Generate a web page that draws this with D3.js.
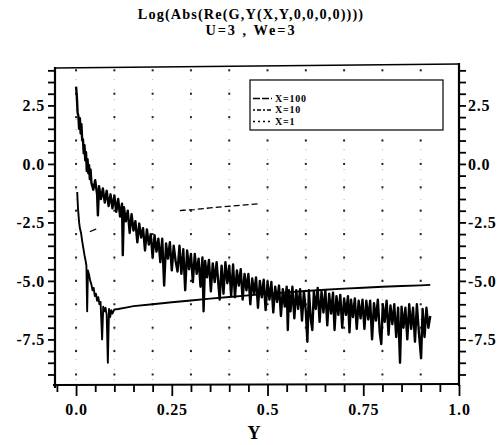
<!DOCTYPE html>
<html>
<head>
<meta charset="utf-8">
<script src="https://cdn.jsdelivr.net/npm/d3@7/dist/d3.min.js"></script>
<style>
  html, body { margin: 0; padding: 0; background: #fff; }
  svg { display: block; }
  text { font-family: "Liberation Serif", "Times New Roman", serif; font-weight: bold; fill: #000; }
</style>
</head>
<body>
<script>
// ---------------- data ----------------
const titleLines = ["Log(Abs(Re(G,Y(X,Y,0,0,0,0))))", "U=3 , We=3"];
const xLabel = "Y";
const xMajorTicks = [0, 0.25, 0.5, 0.75, 1.0];
const xTickLabels = ["0.0", "0.25", "0.5", "0.75", "1.0"];
const yMajorTicks = [2.5, 0, -2.5, -5, -7.5];
const yTickLabels = ["2.5", "0.0", "-2.5", "-5.0", "-7.5"];
const legendNames = ["X=100", "X=10", "X=1"];
const gridColumns = [0, 0.1, 0.2, 0.3, 0.4, 0.5, 0.6, 0.7, 0.8, 0.9];
const gridRows = [4, 3, 2, 1, 0, -1, -2, -3, -4, -5, -6, -7, -8, -9];

// noisy upper curve  [Y, log value]
const upperCurve = [
 [0.000,3.30],[0.002,2.90],[0.004,2.20],[0.006,2.05],[0.008,1.50],[0.010,1.95],[0.012,1.30],[0.014,1.70],
 [0.016,1.00],[0.018,1.05],[0.020,0.45],[0.022,0.80],[0.024,0.15],[0.026,0.50],[0.028,-0.30],[0.030,0.20],
 [0.032,-0.40],[0.034,-0.05],[0.036,-0.65],[0.038,-0.25],[0.040,-0.80],[0.045,-1.10],[0.050,-0.70],[0.055,-1.30],
 [0.057,-2.20],[0.060,-0.95],[0.065,-1.50],[0.070,-1.05],[0.075,-1.65],[0.080,-1.15],[0.085,-1.80],[0.090,-1.30],
 [0.095,-1.90],[0.100,-1.35],[0.105,-2.05],[0.110,-1.50],[0.115,-2.25],[0.120,-1.70],[0.122,-3.90],[0.125,-1.85],
 [0.130,-2.45],[0.135,-2.00],[0.140,-2.95],[0.145,-2.15],[0.150,-2.85],[0.155,-2.45],[0.160,-3.35],[0.165,-2.55],
 [0.170,-3.15],[0.175,-2.75],[0.180,-3.70],[0.185,-2.80],[0.190,-3.45],[0.195,-3.00],[0.200,-4.00],[0.205,-3.05],
 [0.210,-3.75],[0.215,-3.20],[0.220,-4.20],[0.225,-3.20],[0.230,-5.20],[0.235,-3.40],[0.240,-4.05],[0.245,-3.35],
 [0.250,-4.55],[0.255,-3.50],[0.260,-4.15],[0.265,-4.60],[0.270,-3.50],[0.275,-4.70],[0.280,-3.65],[0.285,-5.40],
 [0.290,-3.70],[0.295,-4.50],[0.300,-3.85],[0.305,-5.05],[0.310,-3.85],[0.315,-4.70],[0.320,-4.05],[0.325,-5.25],
 [0.330,-4.00],[0.333,-6.30],[0.337,-4.15],[0.342,-4.85],[0.347,-4.10],[0.352,-5.45],[0.357,-4.25],[0.362,-5.05],
 [0.367,-4.20],[0.375,-5.80],[0.380,-4.35],[0.385,-5.55],[0.390,-4.20],[0.395,-5.10],[0.400,-4.35],[0.405,-5.65],
 [0.410,-4.30],[0.415,-5.70],[0.420,-4.55],[0.425,-5.20],[0.430,-4.50],[0.435,-5.80],[0.440,-4.70],[0.445,-5.40],
 [0.450,-4.70],[0.455,-6.00],[0.460,-4.90],[0.465,-5.55],[0.470,-4.85],[0.475,-6.15],[0.480,-5.00],[0.485,-5.70],
 [0.490,-4.95],[0.495,-6.25],[0.500,-5.05],[0.505,-5.80],[0.510,-5.05],[0.515,-6.35],[0.520,-5.25],[0.525,-5.90],
 [0.530,-5.20],[0.535,-6.50],[0.540,-5.35],[0.545,-6.10],[0.550,-5.25],[0.553,-7.10],[0.556,-5.40],[0.560,-6.30],
 [0.565,-5.25],[0.570,-6.60],[0.575,-5.40],[0.580,-6.20],[0.585,-5.35],[0.590,-6.70],[0.595,-5.45],[0.600,-6.30],
 [0.604,-7.60],[0.608,-5.40],[0.613,-6.65],[0.617,-7.10],[0.621,-5.45],[0.626,-6.20],[0.631,-5.30],[0.636,-6.75],
 [0.641,-5.45],[0.646,-6.35],[0.651,-5.40],[0.656,-6.90],[0.661,-5.55],[0.666,-6.40],[0.671,-5.50],[0.675,-7.10],
 [0.680,-5.65],[0.685,-6.45],[0.690,-5.60],[0.695,-7.00],[0.700,-5.75],[0.705,-6.45],[0.710,-5.65],[0.714,-7.20],
 [0.718,-5.80],[0.723,-6.55],[0.728,-5.75],[0.733,-7.05],[0.738,-5.85],[0.743,-6.60],[0.748,-5.80],[0.753,-7.05],
 [0.758,-5.85],[0.763,-6.65],[0.768,-5.85],[0.773,-7.50],[0.778,-5.95],[0.783,-6.70],[0.788,-5.80],[0.793,-7.20],
 [0.797,-7.70],[0.801,-6.00],[0.806,-6.75],[0.811,-5.85],[0.816,-7.30],[0.821,-6.05],[0.826,-6.85],[0.831,-6.00],
 [0.836,-7.40],[0.841,-6.15],[0.846,-8.50],[0.850,-6.10],[0.855,-7.00],[0.860,-6.15],[0.865,-7.50],[0.870,-6.00],
 [0.875,-7.05],[0.880,-6.15],[0.885,-7.60],[0.890,-6.00],[0.895,-7.15],[0.901,-8.30],[0.905,-6.20],[0.910,-7.40],
 [0.915,-6.15],[0.920,-7.00],[0.925,-6.50]
];

// lower curve [Y, log value]
const lowerCurve = [
 [0.003,-1.20],[0.005,-1.90],[0.008,-2.50],[0.010,-2.75],[0.013,-2.95],[0.016,-3.30],[0.019,-3.60],[0.022,-3.90],
 [0.025,-4.15],[0.027,-4.35],[0.029,-6.30],[0.031,-4.55],[0.034,-4.75],[0.037,-5.00],[0.040,-5.15],[0.043,-5.40],
 [0.046,-5.30],[0.049,-5.65],[0.052,-5.55],[0.055,-5.85],[0.058,-5.70],[0.061,-6.00],[0.064,-5.90],[0.068,-7.50],
 [0.071,-6.10],[0.074,-6.30],[0.077,-6.15],[0.080,-6.45],[0.083,-8.50],[0.086,-6.20],[0.089,-6.55],[0.092,-6.25],
 [0.095,-6.40],[0.100,-6.22],[0.110,-6.20],[0.130,-6.14],[0.150,-6.08],[0.200,-6.00],[0.250,-5.91],[0.300,-5.84],
 [0.350,-5.76],[0.400,-5.69],[0.450,-5.62],[0.500,-5.55],[0.550,-5.49],[0.600,-5.43],[0.650,-5.38],[0.700,-5.33],
 [0.750,-5.29],[0.800,-5.25],[0.850,-5.22],[0.900,-5.19],[0.925,-5.17]
];

// dash-dot middle curve [Y, log value]
const dashCurve = [
 [0.036,-2.90],[0.050,-2.80],[0.100,-2.48],[0.150,-2.27],[0.200,-2.13],[0.280,-1.98],[0.310,-1.95],
 [0.350,-1.88],[0.420,-1.78],[0.480,-1.70]
];

// ---------------- drawing ----------------
const W = 503, H = 445;
const svg = d3.select("body").append("svg").attr("width", W).attr("height", H);

const x = d3.scaleLinear().domain([-0.055, 1.0]).range([55, 459]);
const y = d3.scaleLinear().domain([-9.45, 4.1]).range([385, 68]);

// title
svg.append("text").attr("x", 251).attr("y", 19).attr("text-anchor", "middle")
  .style("font-size", "14.3px").style("letter-spacing", "1.1px").text(titleLines[0]);
svg.append("text").attr("x", 251).attr("y", 35).attr("text-anchor", "middle")
  .style("font-size", "14.3px").style("letter-spacing", "2px").text(titleLines[1]);

// dotted grid columns
const grid = svg.append("g");
grid.selectAll("line.col").data(gridColumns).join("line")
  .attr("x1", d => x(d)).attr("x2", d => x(d))
  .attr("y1", y(4.05)).attr("y2", y(-9.4))
  .attr("stroke", "#aaa").attr("stroke-width", 1).attr("stroke-dasharray", "1,9");
gridColumns.forEach(c => {
  grid.selectAll(null).data(gridRows).join("rect")
    .attr("x", x(c) - 1).attr("y", d => y(d) - 1)
    .attr("width", 2).attr("height", 2).attr("fill", "#222");
});

// curves
const line = d3.line().x(d => x(d[0])).y(d => y(d[1]));
svg.append("path").datum(lowerCurve).attr("d", line)
  .attr("fill", "none").attr("stroke", "#000").attr("stroke-width", 1.9).attr("stroke-linejoin", "round");
svg.append("path").datum(upperCurve).attr("d", line)
  .attr("fill", "none").attr("stroke", "#000").attr("stroke-width", 2.4).attr("stroke-linejoin", "round");
let dash = "7,86";
for (let i = 0; i < 14; i++) dash += ",6,3";
dash += ",400";
svg.append("path").datum(dashCurve).attr("d", line)
  .attr("fill", "none").attr("stroke", "#000").attr("stroke-width", 1.3).attr("stroke-dasharray", dash);

// axes
const yMinor = d3.range(-9, 4.01, 0.5);
const xMinor = d3.range(-0.05, 1.001, 0.05);
const yFmt = v => { const i = yMajorTicks.findIndex(t => Math.abs(t - v) < 1e-6); return i >= 0 ? yTickLabels[i] : ""; };
const xFmt = v => { const i = xMajorTicks.findIndex(t => Math.abs(t - v) < 1e-6); return i >= 0 ? xTickLabels[i] : ""; };

const gL = svg.append("g").attr("transform", `translate(${x.range()[0]},0)`)
  .call(d3.axisLeft(y).tickValues(yMinor).tickSize(7).tickPadding(3).tickFormat(yFmt));
const gR = svg.append("g").attr("transform", `translate(${x.range()[1]},0)`)
  .call(d3.axisRight(y).tickValues(yMinor).tickSize(7).tickPadding(2).tickFormat(yFmt));
const gB = svg.append("g").attr("transform", `translate(0,${y.range()[0]})`)
  .call(d3.axisBottom(x).tickValues(xMinor).tickSize(7).tickPadding(12).tickFormat(xFmt));
[gL, gR, gB].forEach(g => {
  g.select(".domain").remove();
  g.selectAll(".tick line").attr("stroke", "#000").attr("stroke-width", 1.8);
  g.selectAll(".tick text").style("font-size", "16px").style("font-family", "Liberation Serif, serif")
    .style("font-weight", "bold").style("letter-spacing", "0.8px");
});
gB.selectAll(".tick line").attr("y2", d => xMajorTicks.some(t => Math.abs(t - d) < 1e-6) ? 11 : 7);

// frame
const [fx0, fx1] = x.range();
const [fy0, fy1] = y.range();
svg.append("line").attr("x1", fx0).attr("x2", fx0).attr("y1", fy1 - 1).attr("y2", fy0 + 3).attr("stroke", "#000").attr("stroke-width", 2.2);
svg.append("line").attr("x1", fx1).attr("x2", fx1).attr("y1", fy1 - 5).attr("y2", fy0 + 1).attr("stroke", "#000").attr("stroke-width", 2.2);
svg.append("line").attr("x1", fx0 - 2).attr("x2", fx1 + 1).attr("y1", fy0).attr("y2", fy0 - 1).attr("stroke", "#000").attr("stroke-width", 2.2);
svg.append("line").attr("x1", fx0).attr("x2", fx1).attr("y1", fy1).attr("y2", fy1 - 4).attr("stroke", "#000").attr("stroke-width", 1.6);

// axis title
svg.append("text").attr("x", 254).attr("y", 439).attr("text-anchor", "middle")
  .style("font-size", "18px").text(xLabel);

// legend
const lg = svg.append("g");
lg.append("rect").attr("x", 250).attr("y", 80).attr("width", 193).attr("height", 50)
  .attr("fill", "#fff").attr("stroke", "#000").attr("stroke-width", 1.2);
const legendDash = ["7,2", "2,2,4,2", "2,3"];
legendNames.forEach((name, i) => {
  const ly = 98.5 + i * 11.5;
  lg.append("line").attr("x1", 253).attr("x2", 272).attr("y1", ly).attr("y2", ly)
    .attr("stroke", "#000").attr("stroke-width", 1.5).attr("stroke-dasharray", legendDash[i]);
  lg.append("text").attr("x", 275).attr("y", ly + 3.4).style("font-size", "10px")
    .style("letter-spacing", "0.8px").text(name);
});
</script>
</body>
</html>
